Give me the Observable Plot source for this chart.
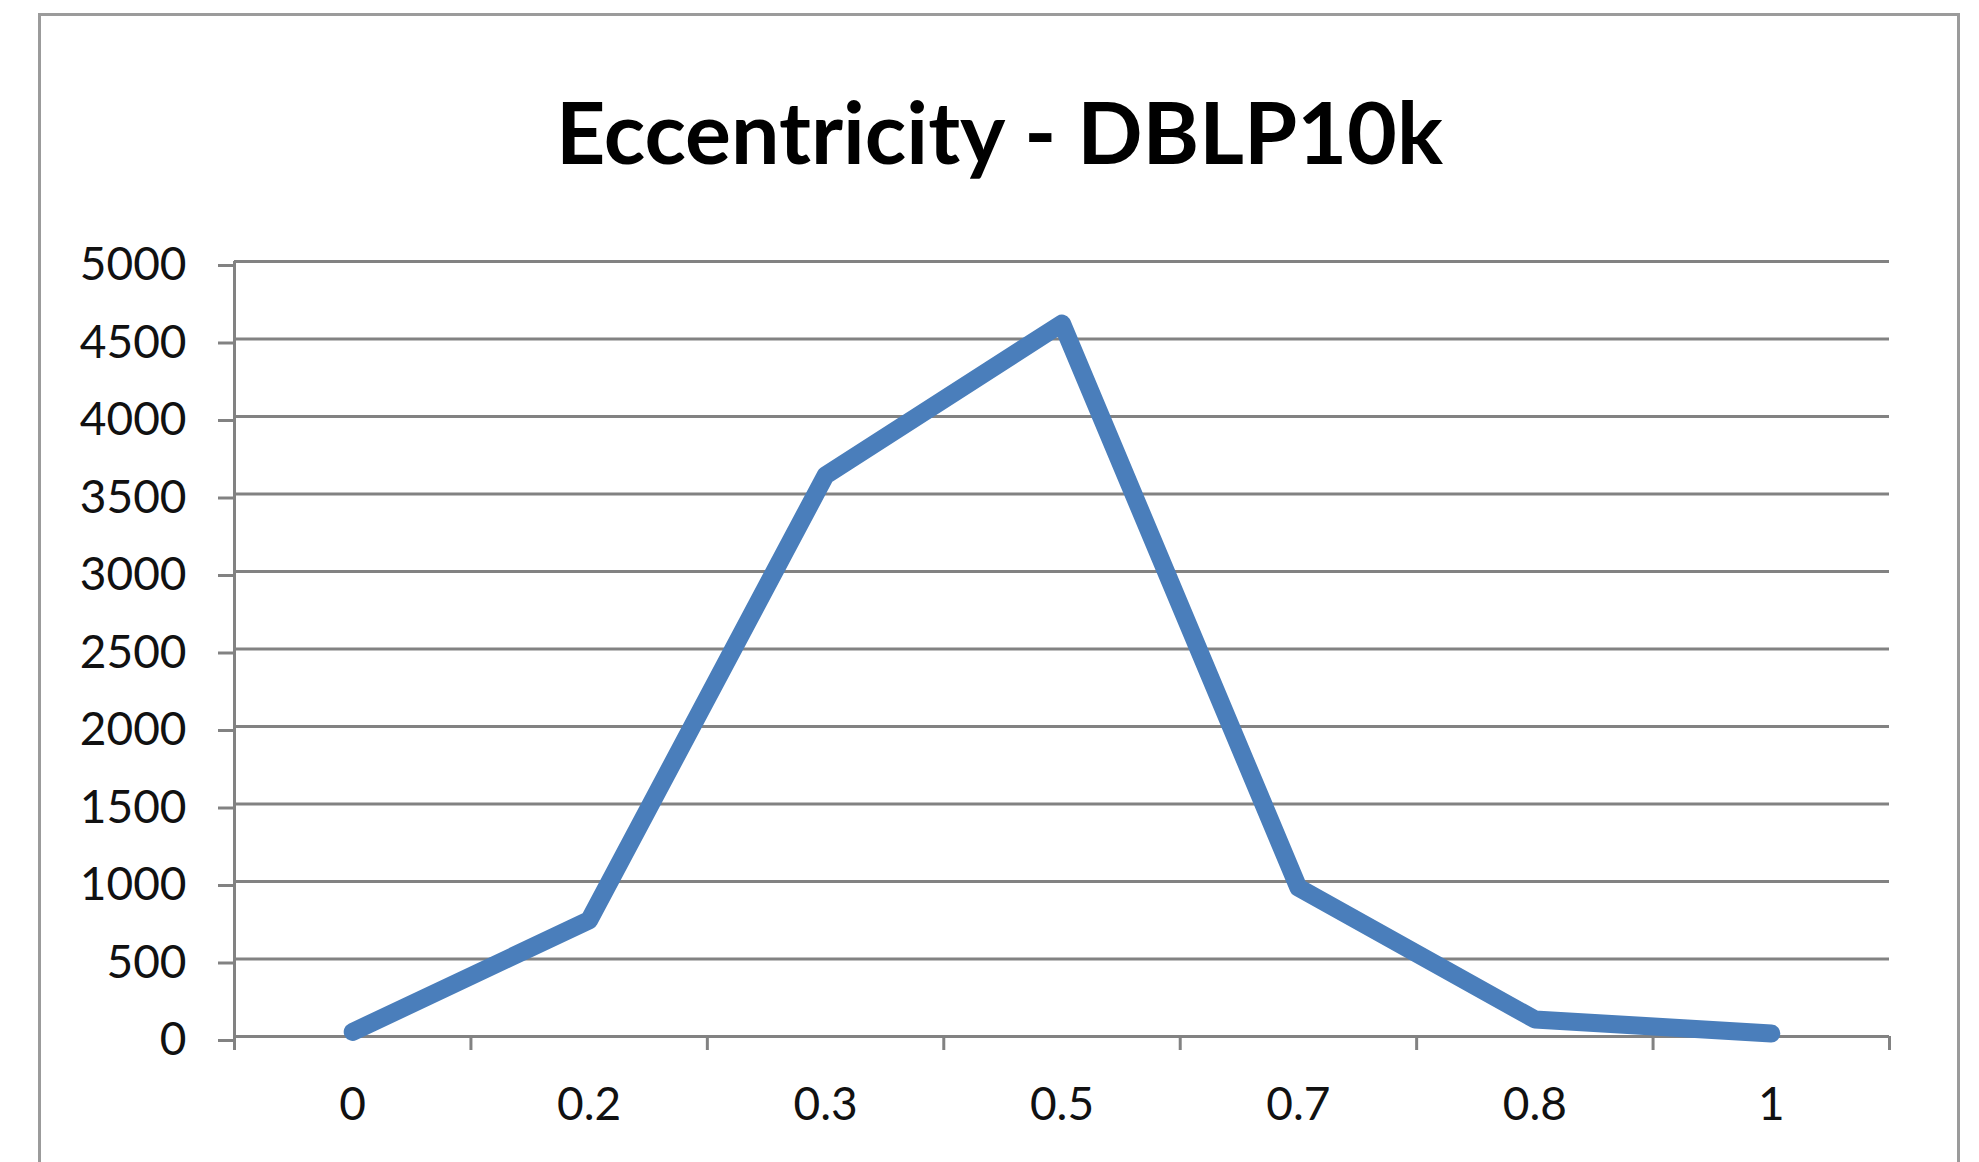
<!DOCTYPE html>
<html><head><meta charset="utf-8">
<script src="https://cdn.jsdelivr.net/npm/d3@7"></script>
<script src="https://cdn.jsdelivr.net/npm/@observablehq/plot@0.6"></script>
<style>
html,body{margin:0;padding:0;background:#fff;overflow:hidden;width:1979px;height:1162px;}
#frame{position:absolute;left:38px;top:13px;width:1922px;height:1300px;border:3px solid #9b9b9b;box-sizing:border-box;}
#title{position:absolute;left:10px;width:1979px;top:88px;line-height:86px;text-align:center;font-family:Lato,sans-serif;font-weight:bold;font-size:86px;color:#000;white-space:nowrap;}
#chart{position:absolute;left:0;top:0;}
</style></head><body>
<div id="frame"></div>
<div id="title">Eccentricity - DBLP10k</div>
<div id="chart"></div>
<script>
const categories = ["0", "0.2", "0.3", "0.5", "0.7", "0.8", "1"];
const counts = [30, 750, 3620, 4600, 960, 110, 20];
const yTicks = [0, 500, 1000, 1500, 2000, 2500, 3000, 3500, 4000, 4500, 5000];

const data = categories.map((c, i) => ({i, c, v: counts[i]}));
const bounds = d3.range(categories.length + 1).map(i => i - 0.5);
const gray = "#828282";

const chart = Plot.plot({
  width: 1979, height: 1162,
  marginLeft: 234, marginRight: 90, marginTop: 261, marginBottom: 126,
  style: {fontFamily: "Lato, sans-serif", fontSize: "46px", color: "#111", background: "transparent", overflow: "visible"},
  x: {domain: [-0.5, categories.length - 0.5]},
  y: {domain: [0, 5000]},
  marks: [
    Plot.gridY(yTicks, {stroke: gray, strokeOpacity: 1, strokeWidth: 3}),
    Plot.axisY(yTicks, {tickSize: 16, tickPadding: 32, stroke: gray, strokeWidth: 3, fill: "#111", fontSize: 46, tickFormat: d3.format("d"), label: null, dy: 4}),
    Plot.axisX(bounds, {tickSize: 14, tickFormat: () => "", stroke: gray, strokeWidth: 3, label: null}),
    Plot.axisX(d3.range(categories.length), {tickSize: 0, tickPadding: 51, fill: "#111", fontSize: 46, tickFormat: i => categories[i], label: null}),
    Plot.ruleX([-0.5], {stroke: gray, strokeWidth: 3}),
    Plot.line(data, {x: "i", y: "v", stroke: "#4a7ebb", strokeWidth: 18, strokeLinejoin: "round", strokeLinecap: "round"})
  ]
});
document.getElementById("chart").appendChild(chart);
</script>
</body></html>
